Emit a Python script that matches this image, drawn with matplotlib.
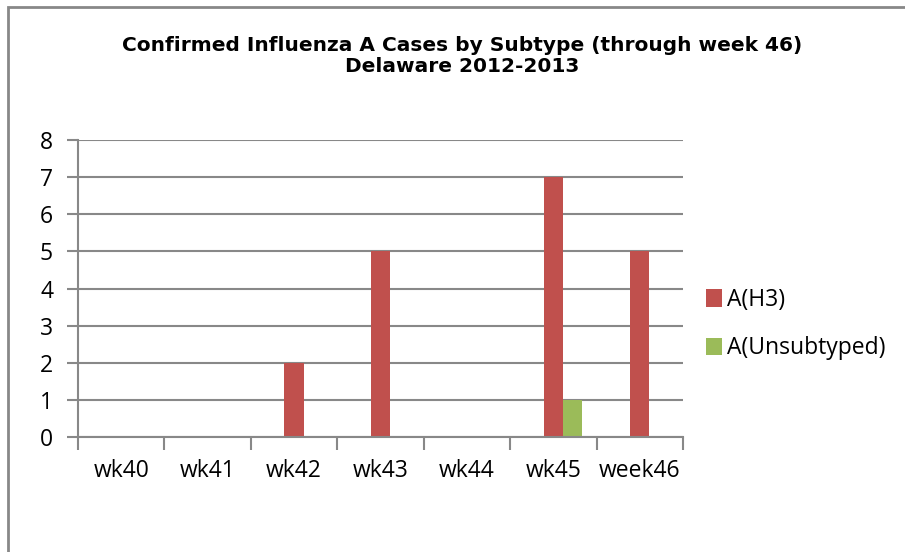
import matplotlib
matplotlib.use('Agg')
import matplotlib.pyplot as plt
from matplotlib.patches import Rectangle
import numpy as np

weeks = ['wk40', 'wk41', 'wk42', 'wk43', 'wk44', 'wk45', 'week46']
h3 = [0, 0, 2, 5, 0, 7, 5]
unsub = [0, 0, 0, 0, 0, 1, 0]
yticks = [0, 1, 2, 3, 4, 5, 6, 7, 8]

red = '#C0504D'
green = '#9BBB59'
grey = '#888888'
lab_font = 'Open Sans'
lab_size = 16.5

fig = plt.figure(figsize=(9.05, 5.52), dpi=100)
W, H = 905, 552

# outer chart frame (runs past the right and bottom edges)
fig.patches.append(Rectangle((7.5 / W, -0.1), 1.2, 1 - 6.5 / H + 0.1,
                             transform=fig.transFigure, fill=False,
                             edgecolor=grey, linewidth=2))

ax = fig.add_axes([78 / W, 1 - 437 / H, (683 - 78) / W, (437 - 140) / H])

x = np.arange(len(weeks))
bw = 0.223
ax.bar(x, h3, width=bw, color=red, label='A(H3)', zorder=3)
ax.bar(x + bw, unsub, width=bw, color=green, label='A(Unsubtyped)', zorder=3)

ax.set_xlim(-0.5, len(weeks) - 0.5)
ax.set_ylim(0, 8)
ax.set_yticks(yticks)
ax.set_yticklabels([str(v) for v in yticks], fontfamily=lab_font, fontsize=lab_size)
ax.set_xticks(x)
ax.set_xticklabels(weeks, fontfamily=lab_font, fontsize=lab_size)
ax.set_xticks(np.arange(-0.5, len(weeks)), minor=True)

ax.tick_params(axis='x', which='major', length=0, pad=16)
ax.tick_params(axis='x', which='minor', length=9, width=1.5, color=grey, direction='out')
ax.tick_params(axis='y', length=8, width=1.5, color=grey, direction='out', pad=10)

ax.grid(axis='y', color=grey, linewidth=1.5, zorder=0)
ax.set_axisbelow(True)
for s in ['top', 'right']:
    ax.spines[s].set_visible(False)
for s in ['left', 'bottom']:
    ax.spines[s].set_color(grey)
    ax.spines[s].set_linewidth(1.5)
ax.spines['bottom'].set_zorder(4)

fig.text(462 / W, 1 - 56 / H,
         'Confirmed Influenza A Cases by Subtype (through week 46)\nDelaware 2012-2013',
         ha='center', va='center', fontsize=14.5, fontweight='bold',
         fontfamily='DejaVu Sans', linespacing=1.1)

leg = fig.legend(loc='upper left', bbox_to_anchor=(697 / W, 1 - 279 / H),
                 frameon=False, prop={'family': lab_font, 'size': lab_size},
                 handlelength=0.7, handleheight=0.8, handletextpad=0.2,
                 labelspacing=1.05, borderaxespad=0)

fig.savefig('out.png', dpi=100)
